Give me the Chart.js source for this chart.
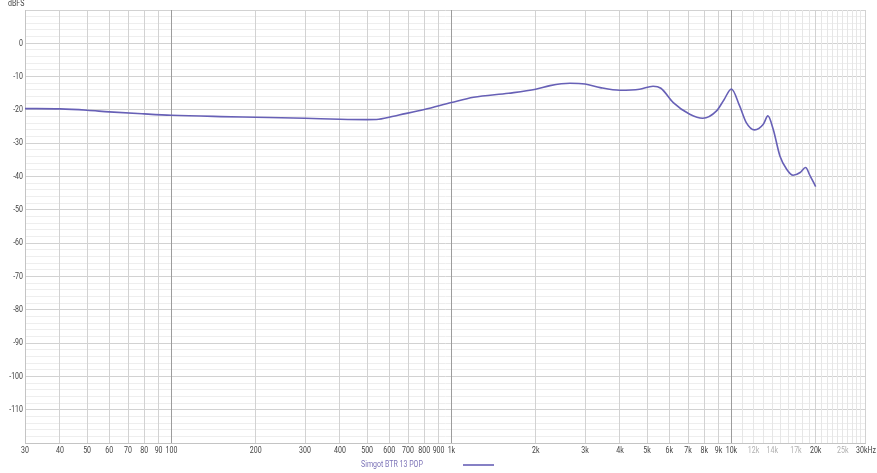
<!DOCTYPE html>
<html>
<head>
<meta charset="utf-8">
<script src="https://cdn.jsdelivr.net/npm/chart.js@4.4.1/dist/chart.umd.min.js"></script>
<style>
  html, body { margin: 0; padding: 0; background: #fff; }
  #wrap { width: 877px; height: 473px; position: relative; }
</style>
</head>
<body>
<div id="wrap"><canvas id="c"></canvas></div>
<script>
// frequency response (Hz, dBFS)
const freqs = [30, 40, 50, 60, 80, 100, 150, 200, 300, 400, 500, 550, 650, 800,
  1000, 1200, 1600, 2000, 2250, 2650, 3000, 3400, 4000, 4700, 5250, 5600, 6200,
  7100, 7900, 8850, 9400, 10000, 10700, 11300, 12100, 13000, 13500, 14100, 14900,
  15750, 16600, 17600, 18400, 19100, 20000]
const levels = [-19.6, -19.7, -20.1, -20.6, -21.2, -21.6, -22.0, -22.2, -22.5, -22.8, -22.9, -22.8, -21.5, -19.9,
  -17.8, -16.2, -15.0, -13.8, -12.7, -12.0, -12.2, -13.3, -14.1, -13.8, -12.9, -13.5, -17.8,
  -21.3, -22.5, -20.3, -17.0, -13.7, -18.8, -23.8, -26.0, -24.3, -21.8, -25.8, -33.8,
  -37.8, -39.6, -38.8, -37.3, -39.8, -43.0]
const seriesName = 'Simgot BTR 13 POP'

// x grid positions and which of them carry labels
const xGrid = [30, 40, 50, 60, 70, 80, 90, 100, 200, 300, 400, 500, 600, 700, 800, 900,
  1000, 2000, 3000, 4000, 5000, 6000, 7000, 8000, 9000, 10000,
  11000, 12000, 13000, 14000, 15000, 16000, 17000, 18000, 19000, 20000,
  21000, 22000, 23000, 24000, 25000, 26000, 27000, 28000, 29000, 30000]
const xLabelled = [30, 40, 50, 60, 70, 80, 90, 100, 200, 300, 400, 500, 600, 700, 800, 900,
  1000, 2000, 3000, 4000, 5000, 6000, 7000, 8000, 9000, 10000, 12000, 14000, 17000, 20000, 25000, 30000]
const xFaint = [12000, 14000, 17000, 25000]
const xStrong = [100, 1000, 10000]

const yMin = -120, yMax = 10
const yLabelled = [0, -10, -20, -30, -40, -50, -60, -70, -80, -90, -100, -110]

const lineColor = '#6760b6'
const font = '9px Roboto, "Noto Sans", sans-serif'

const fmtFreq = v => v === 30000 ? '30kHz' : v >= 1000 ? (v / 1000) + 'k' : String(v)

// narrow text, like the condensed UI font of the original
function text(ctx, s, x, y, align, color) {
  ctx.save()
  ctx.translate(x, y)
  ctx.scale(0.78, 1)
  ctx.font = font
  ctx.textAlign = align
  ctx.textBaseline = 'middle'
  ctx.fillStyle = color
  ctx.fillText(s, 0, 0)
  ctx.restore()
}

// tick labels, axis unit and legend
const extras = {
  id: 'extras',
  afterDraw(chart) {
    const ctx = chart.ctx
    const xs = chart.scales.x
    const ys = chart.scales.y
    const a = chart.chartArea
    text(ctx, 'dBFS', 8, 4, 'left', '#444')
    xLabelled.forEach(v => {
      const px = xs.getPixelForValue(v)
      const color = xFaint.includes(v) ? '#b0b0b0' : '#444'
      if (v === 30000) text(ctx, fmtFreq(v), px - 9, a.bottom + 8, 'left', color)
      else text(ctx, fmtFreq(v), px, a.bottom + 8, 'center', color)
    })
    yLabelled.forEach(v => {
      text(ctx, String(v), a.left - 2, ys.getPixelForValue(v), 'right', '#444')
    })
    // legend
    text(ctx, seriesName, 361, 465, 'left', '#7d74b8')
    ctx.save()
    ctx.strokeStyle = lineColor
    ctx.lineWidth = 1.6
    ctx.beginPath()
    ctx.moveTo(463, 465)
    ctx.lineTo(494, 465)
    ctx.stroke()
    ctx.restore()
  }
}

new Chart(document.getElementById('c'), {
  type: 'line',
  data: {
    datasets: [{
      label: seriesName,
      data: freqs.map((f, i) => ({ x: f, y: levels[i] })),
      borderColor: lineColor,
      borderWidth: 1.6,
      pointRadius: 0,
      fill: false,
      cubicInterpolationMode: 'monotone'
    }]
  },
  options: {
    responsive: true,
    maintainAspectRatio: false,
    animation: false,
    layout: { padding: { top: 10, right: 12, left: 0, bottom: 0 } },
    plugins: { legend: { display: false }, tooltip: { enabled: false } },
    scales: {
      x: {
        type: 'logarithmic',
        min: 30,
        max: 30000,
        afterBuildTicks: s => { s.ticks = xGrid.map(v => ({ value: v })) },
        afterFit: s => { s.height = 30 },
        border: { color: '#c4c4c4' },
        grid: {
          z: -1,
          drawTicks: false,
          color: c => {
            const v = c.tick && c.tick.value
            if (xStrong.includes(v)) return '#9c9c9c'
            if (v > 10000 && v !== 20000 && v !== 30000) return '#e6e6e6'
            return '#d2d2d2'
          }
        },
        ticks: { display: false, autoSkip: false, maxRotation: 0 }
      },
      y: {
        min: yMin,
        max: yMax,
        afterFit: s => { s.width = 25 },
        border: { color: '#c4c4c4' },
        grid: {
          z: -2,
          drawTicks: false,
          color: c => (c.tick.value % 10 === 0) ? '#d2d2d2' : '#eeeeee'
        },
        ticks: { display: false, stepSize: 2, autoSkip: false }
      }
    }
  },
  plugins: [extras]
})
</script>
</body>
</html>
